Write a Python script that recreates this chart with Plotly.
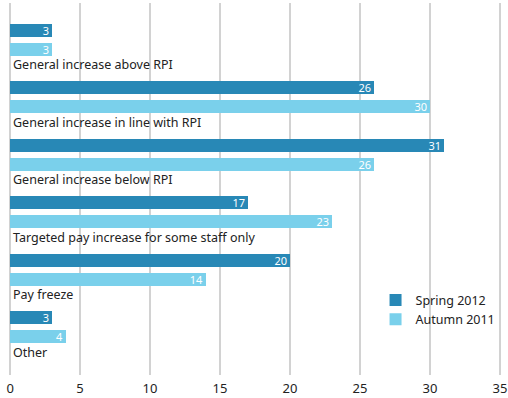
import plotly.graph_objects as go

categories = [
    "General increase above RPI",
    "General increase in line with RPI",
    "General increase below RPI",
    "Targeted pay increase for some staff only",
    "Pay freeze",
    "Other",
]
spring_2012 = [3, 26, 31, 17, 20, 3]
autumn_2011 = [3, 30, 26, 23, 14, 4]
x_ticks = [0, 5, 10, 15, 20, 25, 30, 35]

SPRING_COLOR = "#2888b6"
AUTUMN_COLOR = "#7ad0eb"
FONT = "Noto Sans, Open Sans, sans-serif"

# each category occupies one unit on the y axis: spring bar, autumn bar, then its label
idx = list(range(len(categories)))
spring_y = [i for i in idx]
autumn_y = [i + 0.331 for i in idx]
label_y = [i + 0.60 for i in idx]
bar_w = 0.226

fig = go.Figure()
for name, vals, ys, color in [
    ("Spring 2012", spring_2012, spring_y, SPRING_COLOR),
    ("Autumn 2011", autumn_2011, autumn_y, AUTUMN_COLOR),
]:
    fig.add_trace(go.Bar(
        name=name, orientation="h", x=vals, y=ys, width=bar_w,
        marker=dict(color=color, line=dict(width=0)),
        text=[str(v) for v in vals], textposition="inside", insidetextanchor="end",
        textangle=0, constraintext="none",
        textfont=dict(color="white", size=11, family=FONT), cliponaxis=False,
    ))

for name, y in zip(categories, label_y):
    fig.add_annotation(
        x=0, y=y, xref="x", yref="y", text=name, showarrow=False,
        xanchor="left", yanchor="middle", xshift=1,
        font=dict(size=12.5, color="#222222", family=FONT),
    )

fig.update_layout(
    width=508, height=398,
    margin=dict(l=9, r=7, t=3, b=23, autoexpand=False),
    plot_bgcolor="white", paper_bgcolor="white",
    barmode="overlay", bargap=0,
    font=dict(family=FONT, size=13, color="#222222"),
    showlegend=True,
    legend=dict(
        x=0.745, y=0.241, xanchor="left", yanchor="top",
        bgcolor="rgba(0,0,0,0)", font=dict(size=12.5, color="#222222", family=FONT),
        itemwidth=30, tracegroupgap=0,
    ),
    xaxis=dict(
        range=[-0.08, 35.08], tickvals=x_ticks, ticktext=[str(t) for t in x_ticks],
        showgrid=True, gridcolor="#d2d2d2", gridwidth=2, automargin=False,
        zeroline=False, showline=False, ticks="", ticklabelstandoff=4,
        tickfont=dict(size=13, color="#222222", family=FONT),
    ),
    yaxis=dict(
        range=[6.0, -0.479], showgrid=False, zeroline=False, showline=False,
        showticklabels=False, ticks="", automargin=False,
    ),
)

fig.write_html("out.html")
